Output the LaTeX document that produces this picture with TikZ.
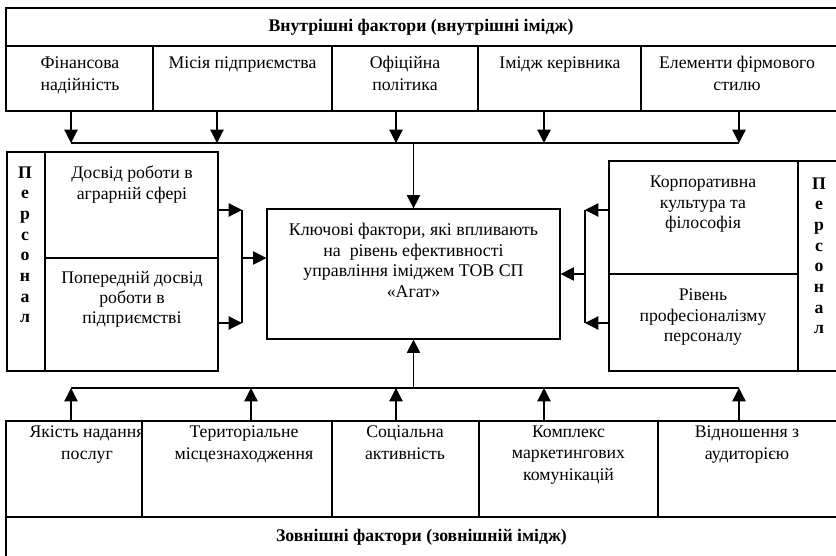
\documentclass[tikz,border=0pt]{standalone}
\usepackage{fontspec}
\setmainfont{Liberation Serif}
\usetikzlibrary{arrows.meta,fit}
\begin{document}
\begin{tikzpicture}[x=0.75pt,y=-0.75pt,line width=0.9pt,
  cell/.style={draw,inner sep=0pt,rectangle},
  txt/.style={font=\fontsize{13.3}{16}\selectfont,align=center,inner sep=0pt,anchor=base},
  ptxt/.style={font=\fontsize{13.3}{15.3}\selectfont,align=center,inner sep=0pt,anchor=base},
  ktxt/.style={font=\fontsize{13.4}{15.5}\selectfont,align=center,inner sep=0pt,anchor=base},
  btxt/.style={font=\fontsize{13.3}{15.5}\selectfont\bfseries,align=center,inner sep=0pt,anchor=base},
  arr/.style={-{Triangle[length=10pt,width=10pt]}}]
\useasboundingbox (0,0) rectangle (836,556);
\clip (0,0) rectangle (836,556);
% top block (anchor=base is the baseline of the last line)
\node[cell,fit={(6,8) (850,46)}] (ititle) {};
\node[btxt] (ititletxt) at (421,32) {Внутрішні фактори (внутрішні імідж)};
\node[cell,fit={(6,46) (153,111)}] (f1) {};
\node[cell,fit={(153,46) (332,111)}] (f2) {};
\node[cell,fit={(332,46) (478,111)}] (f3) {};
\node[cell,fit={(478,46) (641,111)}] (f4) {};
\node[cell,fit={(641,46) (850,111)}] (f5) {};
\node[txt] (f1t) at (80,90.3) {Фінансова\\надійність};
\node[txt] (f2t) at (242.5,69) {Місія підприємства};
\node[txt] (f3t) at (405,90.3) {Офіційна\\політика};
\node[txt] (f4t) at (560,69) {Імідж керівника};
\node[txt] (f5t) at (737,90.3) {Елементи фірмового\\стилю};
% bottom block
\node[cell,fit={(6,421) (142,517)}] (b1) {};
\node[cell,fit={(142,421) (332,517)}] (b2) {};
\node[cell,fit={(332,421) (479,517)}] (b3) {};
\node[cell,fit={(479,421) (658,517)}] (b4) {};
\node[cell,fit={(658,421) (850,517)}] (b5) {};
\node[cell,fit={(6,517) (850,570)}] (btitle) {};
\node[btxt] (btitletxt) at (421.5,541) {Зовнішні фактори (зовнішній імідж)};
\begin{scope}
\clip (6,421) rectangle (142,517);
\node[txt] (b1t) at (87,459) {Якість надання\\послуг};
\end{scope}
\node[txt] (b2t) at (244,459) {Територіальне\\місцезнаходження};
\node[txt] (b3t) at (405,459) {Соціальна\\активність};
\node[txt] (b4t) at (568.5,480.3) {Комплекс\\маркетингових\\комунікацій};
\node[txt] (b5t) at (747,459) {Відношення з\\аудиторією};
% centre
\node[cell,fit={(267,209) (560,339)}] (K) {};
\node[ktxt] (Kt) at (413.5,297.5) {Ключові фактори, які впливають\\на~~рівень ефективності\\управління іміджем ТОВ СП\\«Агат»};
% left panel
\node[cell,fit={(7,152) (45,371)}] (lpers) {};
\node[cell,fit={(45,152) (218,258)}] (l1) {};
\node[cell,fit={(45,258) (218,371)}] (l2) {};
\node[btxt] (lperst) at (25,322.7) {П\\е\\р\\с\\о\\н\\а\\л};
\node[ptxt] (l1t) at (132,199.4) {Досвід роботи в\\аграрній сфері};
\node[ptxt] (l2t) at (132,323.8) {Попередній досвід\\роботи в\\підприємстві};
% right panel
\node[cell,fit={(609,161) (798,274)}] (r1) {};
\node[cell,fit={(609,274) (798,371)}] (r2) {};
\node[cell,fit={(798,161) (850,371)}] (rpers) {};
\node[btxt] (rperst) at (819,333.7) {П\\е\\р\\с\\о\\н\\а\\л};
\node[ptxt] (r1t) at (703,228.8) {Корпоративна\\культура та\\філософія};
\node[ptxt] (r2t) at (703,341.5) {Рівень\\професіоналізму\\персоналу};
% top bus
\coordinate (tb1) at (71,143);
\coordinate (tb2) at (217,143);
\coordinate (tb3) at (396,143);
\coordinate (tb4) at (544,143);
\coordinate (tb5) at (739,143);
\coordinate (tbc) at (413.5,143);
\foreach \i in {1,...,5} {\draw[arr] (f\i.south -| tb\i) -- (tb\i);}
\draw (tb1) -- (tb5);
\draw[arr] (tbc) -- (K.north);
% bottom bus
\coordinate (bb1) at (71,388);
\coordinate (bb2) at (251,388);
\coordinate (bb3) at (396,388);
\coordinate (bb4) at (544,388);
\coordinate (bb5) at (739,388);
\coordinate (bbc) at (413.5,388);
\foreach \i in {1,...,5} {\draw[arr] (b\i.north -| bb\i) -- (bb\i);}
\draw (bb1) -- (bb5);
\draw[arr] (bbc) -- (K.south);
% left connectors
\coordinate (lv1) at (242,210);
\coordinate (lv2) at (242,323);
\coordinate (lvm) at (242,258);
\draw[arr] (l1.east |- lv1) -- (lv1);
\draw[arr] (l2.east |- lv2) -- (lv2);
\draw (lv1) -- (lv2);
\draw[arr] (lvm) -- (K.west |- lvm);
% right connectors
\coordinate (rv1) at (585,210);
\coordinate (rv2) at (585,323);
\coordinate (rvm) at (585,274);
\draw[arr] (r1.west |- rv1) -- (rv1);
\draw[arr] (r2.west |- rv2) -- (rv2);
\draw (rv1) -- (rv2);
\draw[arr] (rvm) -- (K.east |- rvm);
\end{tikzpicture}
\end{document}
